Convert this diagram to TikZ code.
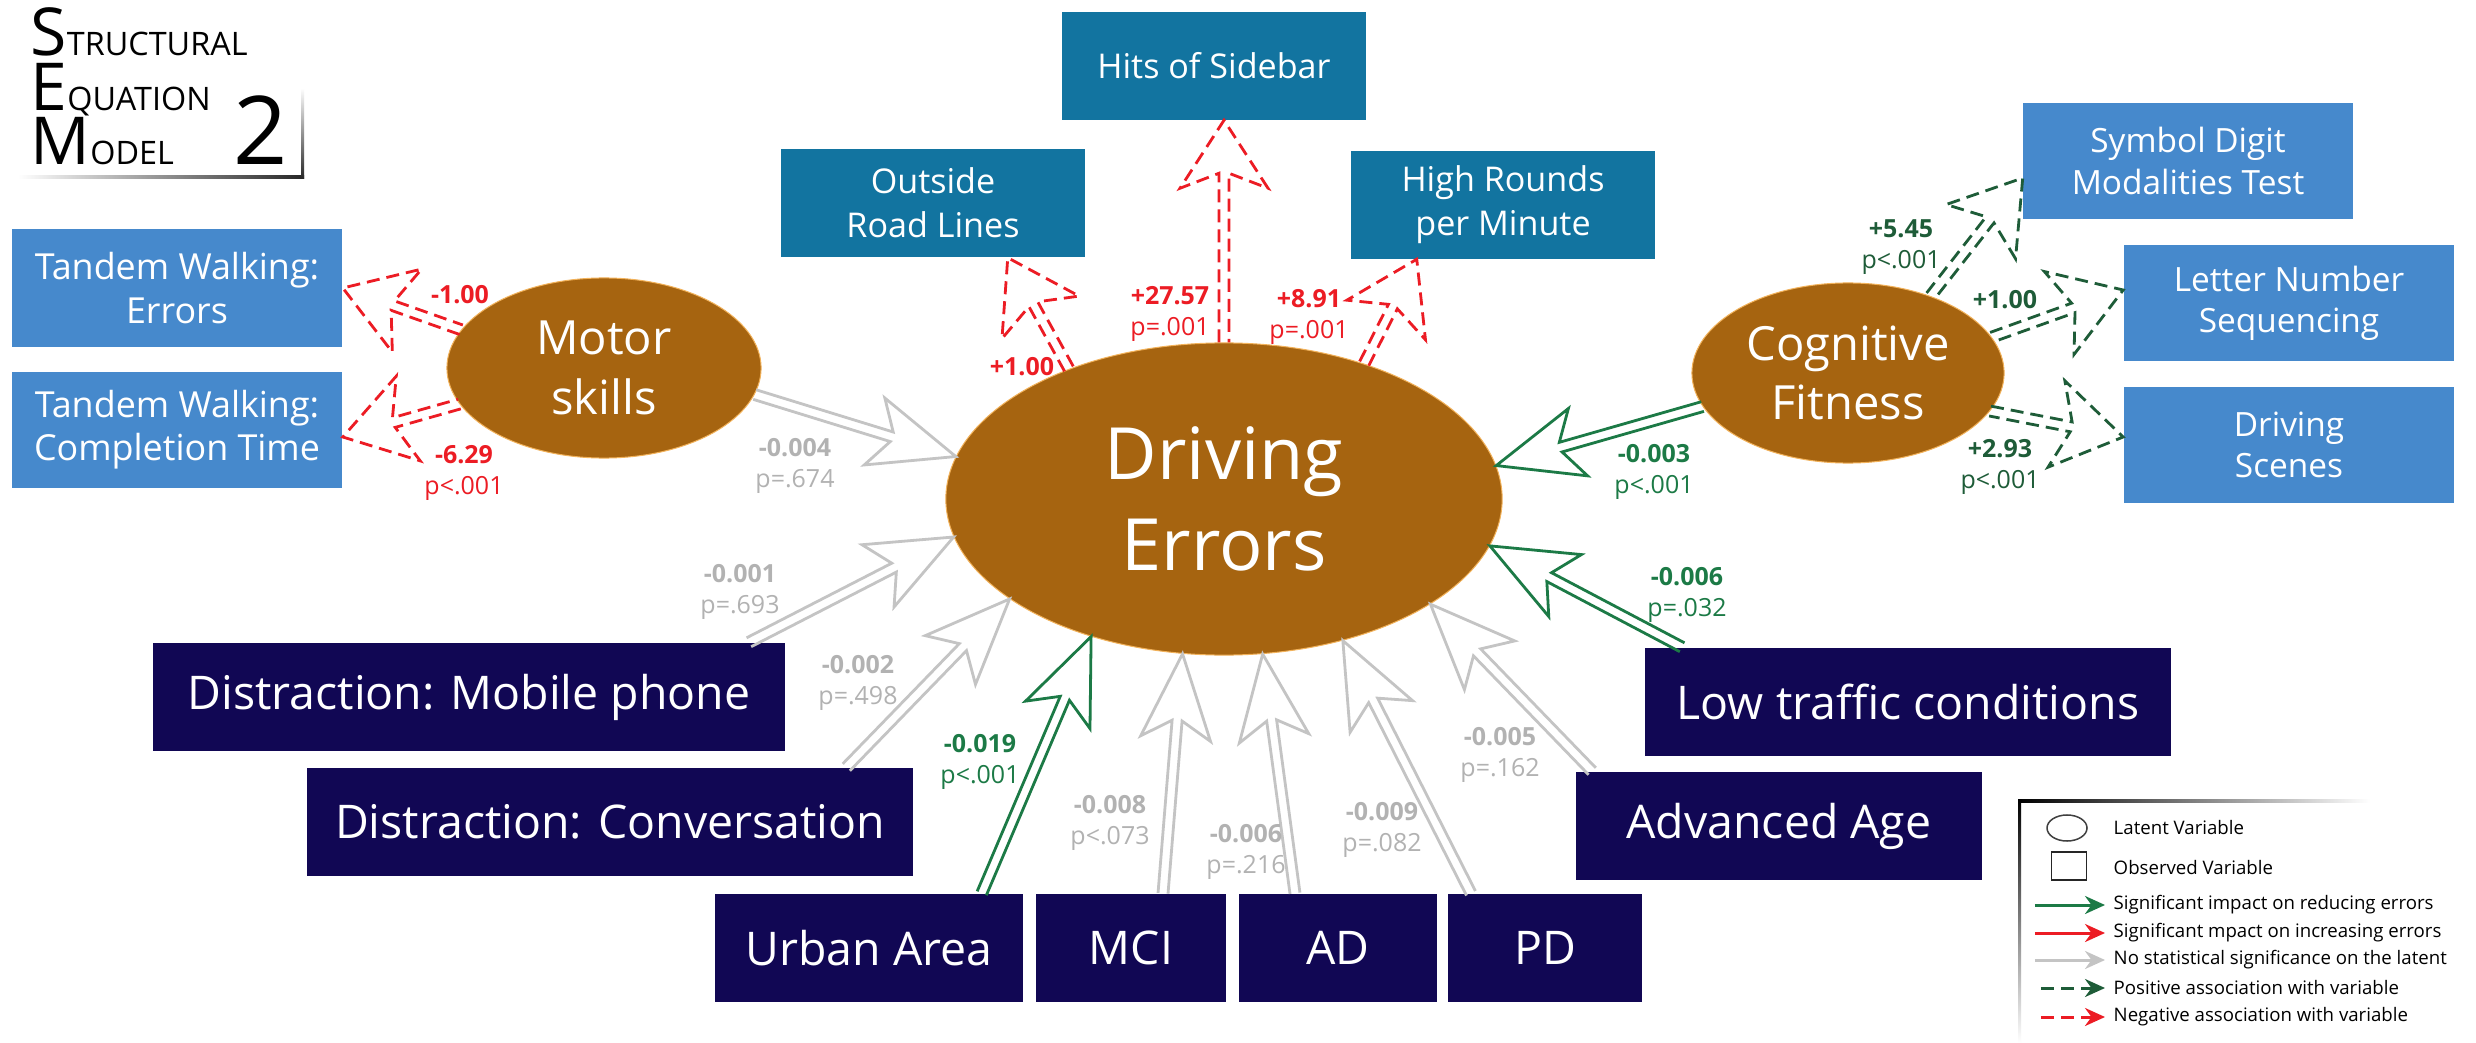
\documentclass[tikz,border=0pt]{standalone}
\usepackage{fontspec}
\setmainfont{Open Sans}
\usepackage{tikz}
\usetikzlibrary{calc,arrows.meta,shapes.geometric}

\definecolor{latbrown}{RGB}{166,100,16}
\definecolor{latedge}{RGB}{242,178,90}
\definecolor{obsblue}{RGB}{70,137,204}
\definecolor{obsteal}{RGB}{18,116,160}
\definecolor{obsnavy}{RGB}{17,7,84}
\definecolor{sigred}{RGB}{236,28,36}
\definecolor{siggreen}{RGB}{28,122,70}
\definecolor{posgreen}{RGB}{30,92,56}
\definecolor{nosig}{RGB}{196,196,196}
\definecolor{nosigtext}{RGB}{178,178,178}

\newcommand{\fs}[2]{\fontsize{#1}{#2}\selectfont}
\def\asw{0.05cm}

\tikzset{
  latent/.style={ellipse, fill=latbrown, draw=latedge, line width=0.01cm,
    text=white, align=center, inner sep=0pt},
  obs/.style={rectangle, text=white, align=center, inner sep=0pt},
  lightobs/.style={obs, fill=obsblue, font=\fs{10.2}{12.3}},
  tealobs/.style={obs, fill=obsteal, font=\fs{9.7}{12.5}},
  navyobs/.style={obs, fill=obsnavy, font=\fs{13.2}{15}, minimum height=1.08cm},
  est/.style={align=center, inner sep=0pt, font=\fs{7.1}{8.7}},
  legtxt/.style={anchor=west, inner sep=0pt, font=\fs{5.3}{6}},
  head/.code n args={3}{\def\ahl{#1}\def\ahw{#2}\def\ajn{#3}},
  fat/.style={line width=0.028cm, line join=miter, to path={
    ($(\tikztostart)!\asw!90:(\tikztotarget)$)
    -- ($($(\tikztotarget)!\ajn!(\tikztostart)$)!\asw!-90:(\tikztostart)$)
    -- ($($(\tikztotarget)!\ahl!(\tikztostart)$)!\ahw!-90:(\tikztostart)$)
    -- (\tikztotarget)
    -- ($($(\tikztotarget)!\ahl!(\tikztostart)$)!\ahw!90:(\tikztostart)$)
    -- ($($(\tikztotarget)!\ajn!(\tikztostart)$)!\asw!90:(\tikztostart)$)
    -- ($(\tikztostart)!\asw!-90:(\tikztotarget)$)}},
  struct/.style={fat, head={0.85cm}{0.35cm}{0.67cm}},
  meas/.style={fat, head={0.68cm}{0.44cm}{0.53cm}, dash pattern=on 0.13cm off 0.07cm},
  legarrow/.style={line width=0.03cm, -{Stealth[length=0.2cm, width=0.18cm]}}
}

\begin{document}
\begin{tikzpicture}[x=0.01cm, y=-0.01cm]
\useasboundingbox (0,0) rectangle (2476,1043);
\fill[white] (0,0) rectangle (2476,1043);

% title
\node[anchor=base west, align=left, inner sep=0pt, font=\fs{18.8}{15.6}] (ttl) at (30,165)
  {S{\fs{9.2}{15.6}TRUCTURAL}\\E{\fs{9.2}{15.6}QUATION}\\M{\fs{9.2}{15.6}ODEL}};
\node[anchor=base east, inner sep=0pt] (two) at (288,165) {\fs{27}{30}2};
\shade[left color=white, right color=black!85] (18,176) rectangle (304,179);
\shade[top color=white, bottom color=black!85] (301,88) rectangle (304,179);

% latent variables
\node[latent, minimum width=5.56cm, minimum height=3.12cm, font=\fs{20.5}{26}] (drv) at (1224,499) {Driving\\Errors};
\node[latent, minimum width=3.14cm, minimum height=1.8cm, font=\fs{13.4}{17}] (mot) at (604,368) {Motor\\skills};
\node[latent, minimum width=3.12cm, minimum height=1.8cm, font=\fs{13.4}{17}] (cog) at (1848,373) {Cognitive\\Fitness};

% indicators
\node[lightobs, minimum width=3.3cm, minimum height=1.17cm] (te) at (177,288) {Tandem Walking:\\Errors};
\node[lightobs, minimum width=3.3cm, minimum height=1.15cm] (tc) at (177,430) {Tandem Walking:\\Completion Time};
\node[tealobs, minimum width=3.04cm, minimum height=1.08cm] (ol) at (933,203) {Outside\\Road Lines};
\node[tealobs, minimum width=3.04cm, minimum height=1.07cm] (hs) at (1214,66) {Hits of Sidebar};
\node[tealobs, minimum width=3.03cm, minimum height=1.07cm] (hr) at (1503,205) {High Rounds\\per Minute};
\node[lightobs, minimum width=3.29cm, minimum height=1.16cm, font=\fs{9.5}{11.7}] (sd) at (2188,161) {Symbol Digit\\Modalities Test};
\node[lightobs, minimum width=3.3cm, minimum height=1.16cm, font=\fs{9.5}{11.7}] (ln) at (2289,303) {Letter Number\\Sequencing};
\node[lightobs, minimum width=3.3cm, minimum height=1.15cm, font=\fs{9.5}{11.7}] (ds) at (2289,445) {Driving\\Scenes};

% observed predictors
\node[navyobs, minimum width=6.32cm] (mp) at (469,697) {Distraction: Mobile phone};
\node[navyobs, minimum width=6.05cm] (cv) at (610,822) {Distraction: Conversation};
\node[navyobs, minimum width=3.08cm] (ua) at (869,948) {Urban Area};
\node[navyobs, minimum width=1.89cm] (mci) at (1131,948) {MCI};
\node[navyobs, minimum width=1.97cm] (ad) at (1338,948) {AD};
\node[navyobs, minimum width=1.93cm] (pd) at (1545,948) {PD};
\node[navyobs, minimum width=4.06cm] (aa) at (1779,826) {Advanced Age};
\node[navyobs, minimum width=5.26cm] (lt) at (1908,702) {Low traffic conditions};

% structural paths
\draw[struct, nosig] (mot.350) to (drv.171);
\draw[struct, nosig] ([xshift=-0.37cm]mp.north east) to (drv.188);
\draw[struct, nosig] ([xshift=-0.67cm]cv.north east) to (drv.205);
\draw[struct, siggreen] ([xshift=-0.42cm]ua.north east) to (drv.226);
\draw[struct, nosig] ([xshift=0.32cm]mci.north) to (drv.255);
\draw[struct, nosig] ([xshift=-0.43cm]ad.north) to (drv.284);
\draw[struct, nosig] ([xshift=-0.74cm]pd.north) to (drv.310);
\draw[struct, nosig] ([xshift=0.17cm]aa.north west) to (drv.333);
\draw[struct, siggreen] ([xshift=0.38cm]lt.north west) to (drv.350);
\draw[struct, siggreen] (cog.193) to (drv.7);

% measurement paths
\draw[meas, sigred] (mot.165) to (te.east);
\draw[meas, sigred] (mot.194) to ([yshift=-0.07cm]tc.east);
\draw[meas, sigred] (drv.140) to ([xshift=-0.78cm]ol.south east);
\draw[meas, sigred] (drv.90) to (drv.90 |- hs.south);
\draw[meas, sigred] (drv.44) to ([xshift=0.66cm]hr.south west);
\draw[meas, posgreen] (cog.43) to ([yshift=-0.17cm]sd.west);
\draw[meas, posgreen] (cog.14) to ([yshift=0.13cm]ln.west);
\draw[meas, posgreen] (cog.345) to ([yshift=0.08cm]ds.west);

% estimates
\node[est, text=nosigtext] (eA) at (795,466) {\textbf{-0.004}\\p=.674};
\node[est, text=nosigtext] (eB) at (740,592) {\textbf{-0.001}\\p=.693};
\node[est, text=nosigtext] (eC) at (858,683) {\textbf{-0.002}\\p=.498};
\node[est, text=siggreen] (eD) at (980,762) {\textbf{-0.019}\\p<.001};
\node[est, text=nosigtext] (eE) at (1110,823) {\textbf{-0.008}\\p<.073};
\node[est, text=nosigtext] (eF) at (1246,852) {\textbf{-0.006}\\p=.216};
\node[est, text=nosigtext] (eG) at (1382,830) {\textbf{-0.009}\\p=.082};
\node[est, text=nosigtext] (eH) at (1500,755) {\textbf{-0.005}\\p=.162};
\node[est, text=siggreen] (eI) at (1687,595) {\textbf{-0.006}\\p=.032};
\node[est, text=siggreen] (eJ) at (1654,472) {\textbf{-0.003}\\p<.001};
\node[est, text=sigred] (mA) at (460,295) {\textbf{-1.00}};
\node[est, text=sigred] (mB) at (464,473) {\textbf{-6.29}\\p<.001};
\node[est, text=sigred] (mC) at (1022,367) {\textbf{+1.00}};
\node[est, text=sigred] (mD) at (1170,314) {\textbf{+27.57}\\p=.001};
\node[est, text=sigred] (mE) at (1309,317) {\textbf{+8.91}\\p=.001};
\node[est, text=posgreen] (mF) at (1901,247) {\textbf{+5.45}\\p<.001};
\node[est, text=posgreen] (mG) at (2005,300) {\textbf{+1.00}};
\node[est, text=posgreen] (mH) at (2000,467) {\textbf{+2.93}\\p<.001};

% legend
\shade[left color=black, right color=white] (2018,799) rectangle (2370,802);
\shade[top color=black, bottom color=white] (2018,799) rectangle (2021,1043);
\node[ellipse, draw=black!75, line width=0.015cm, minimum width=0.4cm, minimum height=0.26cm, inner sep=0pt] (lgl) at (2067,828) {};
\node[rectangle, draw=black!85, line width=0.015cm, minimum width=0.35cm, minimum height=0.28cm, inner sep=0pt] (lgo) at (2069,866) {};
\node[legtxt] (lg1) at (2113,828) {Latent Variable};
\node[legtxt] (lg2) at (2113,868) {Observed Variable};
\node[legtxt] (lg3) at (2113,905) {Significant impact on reducing errors};
\node[legtxt] (lg4) at (2113,933) {Significant mpact on increasing errors};
\node[legtxt] (lg5) at (2113,960) {No statistical significance on the latent};
\node[legtxt] (lg6) at (2113,988) {Positive association with variable};
\node[legtxt] (lg7) at (2113,1017) {Negative association with variable};
\draw[legarrow, siggreen] ([xshift=-0.78cm]lg3.west) -- ([xshift=-0.08cm]lg3.west);
\draw[legarrow, sigred] ([xshift=-0.78cm]lg4.west) -- ([xshift=-0.08cm]lg4.west);
\draw[legarrow, nosig] ([xshift=-0.78cm]lg5.west) -- ([xshift=-0.08cm]lg5.west);
\draw[legarrow, posgreen, dash pattern=on 0.13cm off 0.07cm] ([xshift=-0.72cm]lg6.west) -- ([xshift=-0.08cm]lg6.west);
\draw[legarrow, sigred, dash pattern=on 0.13cm off 0.07cm] ([xshift=-0.72cm]lg7.west) -- ([xshift=-0.08cm]lg7.west);
\end{tikzpicture}
\end{document}
